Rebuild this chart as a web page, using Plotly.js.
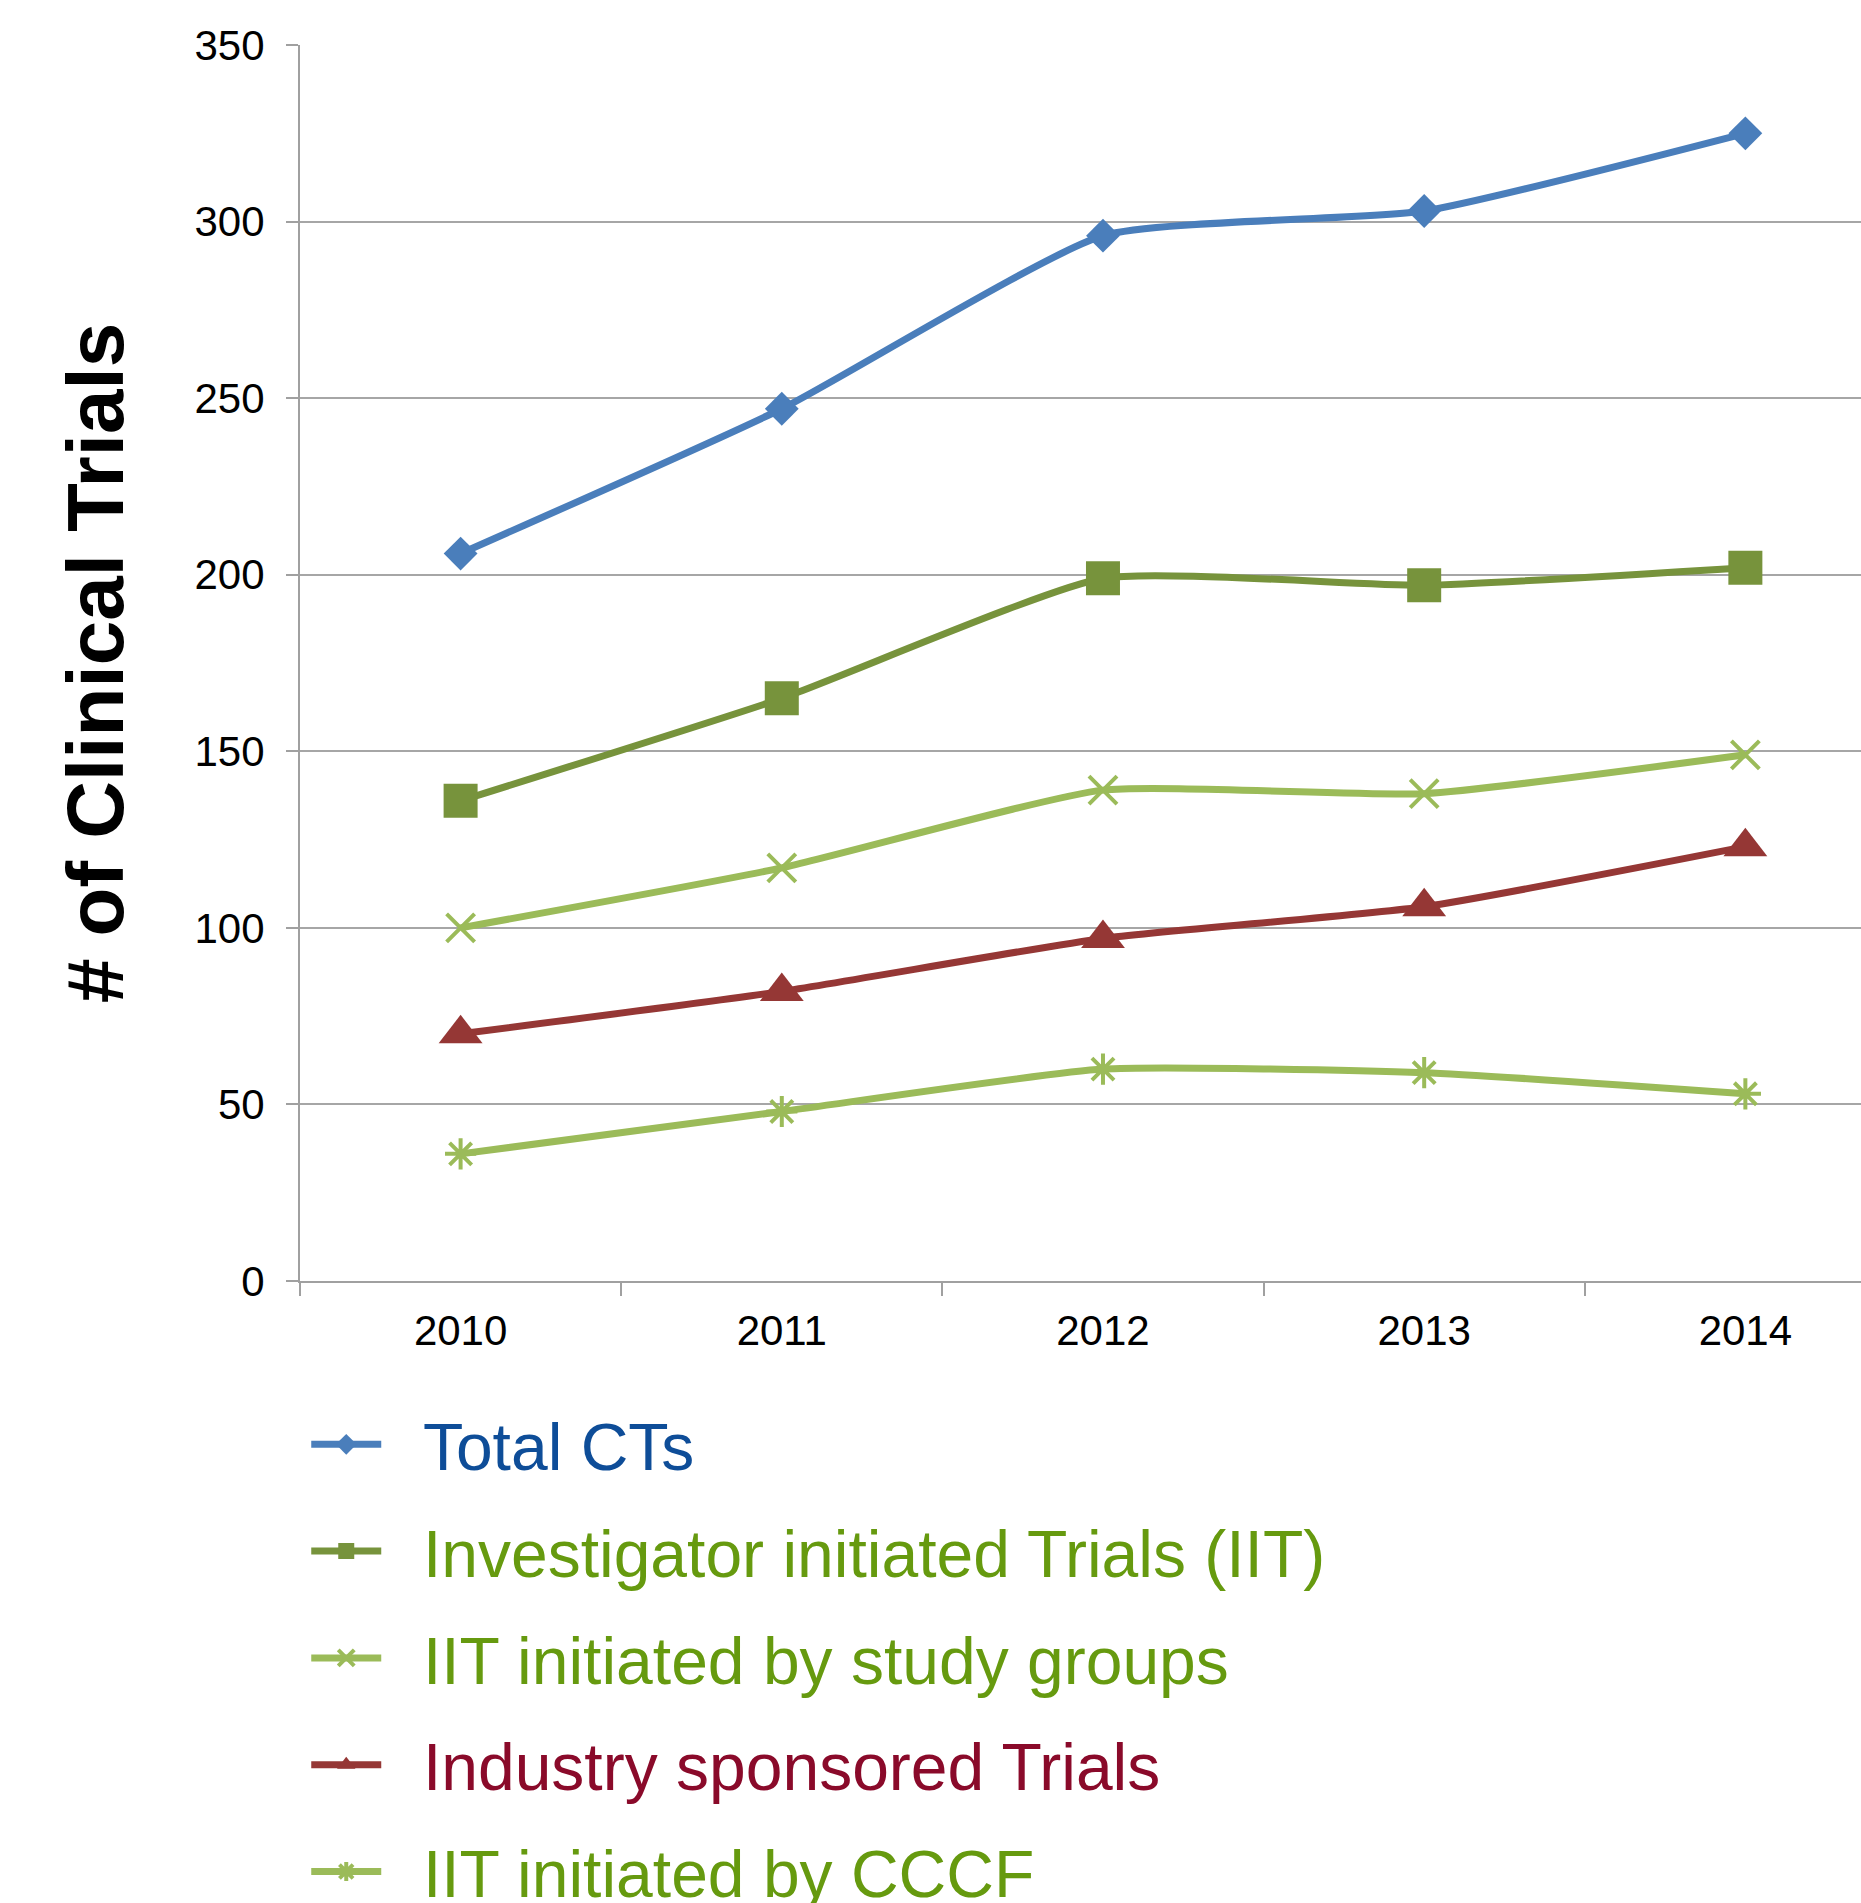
<!DOCTYPE html>
<html>
<head>
<meta charset="utf-8">
<script src="https://cdn.plot.ly/plotly-3.0.1.min.js"></script>
<style>html,body{margin:0;padding:0;background:#fff;}#chart{width:1861px;height:1903px;}</style>
</head>
<body>
<div id="chart"></div>
<script>
const years = ["2010", "2011", "2012", "2013", "2014"];
const totalCTs = [206, 247, 296, 303, 325];
const iit = [136, 165, 199, 197, 202];
const iitStudyGroups = [100, 117, 139, 138, 149];
const industry = [70, 82, 97, 106, 123];
const iitCCCF = [36, 48, 60, 59, 53];
const seriesNames = ["Total CTs", "Investigator initiated Trials (IIT)", "IIT initiated by study groups", "Industry sponsored Trials", "IIT initiated by CCCF"];
const yTicks = [0, 50, 100, 150, 200, 250, 300, 350];

const FONT = "Arial, 'Liberation Sans', sans-serif";
const PAD = "\u00A0\u00A0";
function mk(name, y, lineColor, symbol, size, mline, group) {
  return {
    type: "scatter", mode: "lines+markers", x: years, y: y, name: PAD + name,
    legendgroup: group,
    line: {color: lineColor, width: 7, shape: "spline", smoothing: 0.5},
    marker: {symbol: symbol, size: size, color: lineColor, line: {color: lineColor, width: mline}},
    cliponaxis: false
  };
}
const traces = [
  mk(seriesNames[0], totalCTs, "#4A7EBB", "diamond", 26, 0, "a"),
  mk(seriesNames[1], iit, "#77933C", "square", 34, 0, "b"),
  mk(seriesNames[2], iitStudyGroups, "#9BBB59", "x-thin-open", 28, 4, "c"),
  mk(seriesNames[3], industry, "#953735", "triangle-up", 38, 0, "d"),
  mk(seriesNames[4], iitCCCF, "#9BBB59", "asterisk-open", 26, 4, "e")
];
const textColors = ["#0E4D98", "#669A0F", "#669A0F", "#8A0A2A", "#669A0F"];

const layout = {
  width: 1861, height: 1903,
  margin: {l: 300, r: 0, t: 45, b: 622, pad: 0},
  paper_bgcolor: "#fff", plot_bgcolor: "#fff",
  font: {family: FONT, size: 42, color: "#000"},
  showlegend: true,
  legend: {
    xref: "paper", yref: "container",
    x: 0.004, xanchor: "left", y: 0.267, yanchor: "top",
    font: {family: FONT, size: 66},
    traceorder: "grouped", tracegroupgap: 18,
    itemwidth: 70, bgcolor: "rgba(0,0,0,0)"
  },
  xaxis: {
    type: "category", range: [-0.5, 4.36],
    showgrid: false, showline: true, linecolor: "#A0A0A0", linewidth: 2,
    ticks: "outside", tickson: "boundaries", ticklen: 13, tickwidth: 2, tickcolor: "#A0A0A0",
    ticklabelstandoff: 12, tickangle: 0,
    tickfont: {family: FONT, size: 42, color: "#000"},
    zeroline: false, fixedrange: true
  },
  yaxis: {
    range: [0, 350], tickvals: yTicks, ticktext: yTicks.map(String),
    showgrid: true, gridcolor: "#A6A6A6", gridwidth: 2,
    showline: true, linecolor: "#A0A0A0", linewidth: 2,
    ticks: "outside", ticklen: 12, tickwidth: 2, tickcolor: "#A0A0A0",
    ticklabelstandoff: 13,
    tickfont: {family: FONT, size: 42, color: "#000"},
    zeroline: false, automargin: true,
    title: {text: "# of Clinical Trials", font: {family: FONT, size: 80, color: "#000", weight: "bold"}, standoff: 45}
  }
};
Plotly.newPlot("chart", traces, layout, {displayModeBar: false, staticPlot: true}).then(() => {
  const items = document.querySelectorAll(".legend .traces");
  items.forEach((g, i) => {
    const txt = g.querySelector("text.legendtext");
    if (txt) txt.style.fill = textColors[i];
  });
});
</script>
</body>
</html>
